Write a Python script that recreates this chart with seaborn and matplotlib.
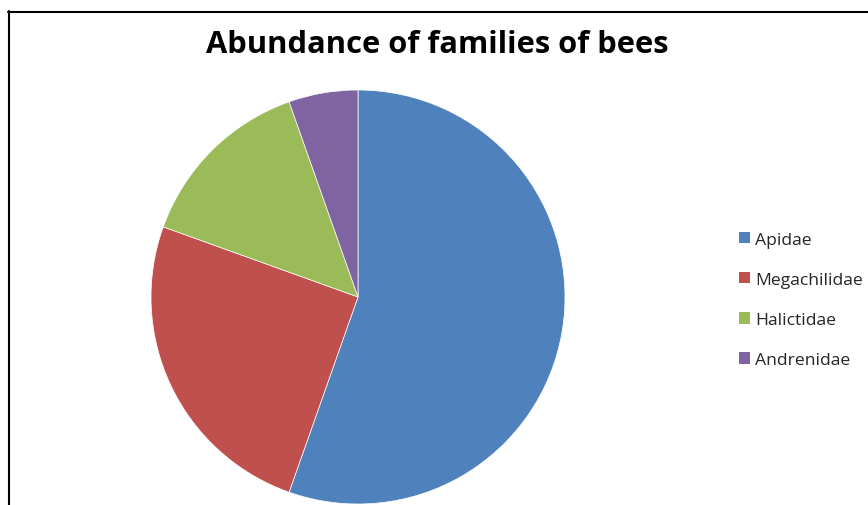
import seaborn as sns
import matplotlib
matplotlib.use("Agg")
import matplotlib.pyplot as plt
from matplotlib.lines import Line2D
from matplotlib.patches import Patch

families = ['Apidae', 'Megachilidae', 'Halictidae', 'Andrenidae']
share = [55.4, 25.1, 14.1, 5.4]
colors = ['#4F81BD', '#C0504D', '#9BBB59', '#8064A2']

sns.set_theme(style="white")
plt.rcParams['font.family'] = ['Open Sans', 'DejaVu Sans']
pal = sns.color_palette(colors)

fig = plt.figure(figsize=(8.68, 5.06), dpi=100)
ax = fig.add_axes([151/868, 1/506, 414/868, 414/506])

ax.pie(share, colors=pal, startangle=90, counterclock=False,
       radius=1.0, wedgeprops=dict(edgecolor='white', linewidth=0.5))
ax.set_xlim(-1, 1)
ax.set_ylim(-1, 1)
ax.set_aspect('equal')

fig.text(437/868, 1 - 45/506, 'Abundance of families of bees',
         ha='center', va='center', fontsize=22.2, fontweight='bold', color='black')

# chart frame (left + top visible)
fig.add_artist(Line2D([8.5/868, 8.5/868], [0, 1 - 12/506], color='black', lw=1.5,
                      transform=fig.transFigure))
fig.add_artist(Line2D([8/868, 1], [1 - 12.5/506, 1 - 12.5/506], color='black', lw=1.5,
                      transform=fig.transFigure))

handles = [Patch(facecolor=c, edgecolor='none') for c in pal]
fig.legend(handles, families, loc='center left', bbox_to_anchor=(734/868, 1 - 301/506),
           frameon=False, fontsize=12.6, handlelength=0.62, handleheight=0.62,
           handletextpad=0.3, labelspacing=1.38, borderaxespad=0, borderpad=0.3)

fig.savefig('out.png', dpi=100)
